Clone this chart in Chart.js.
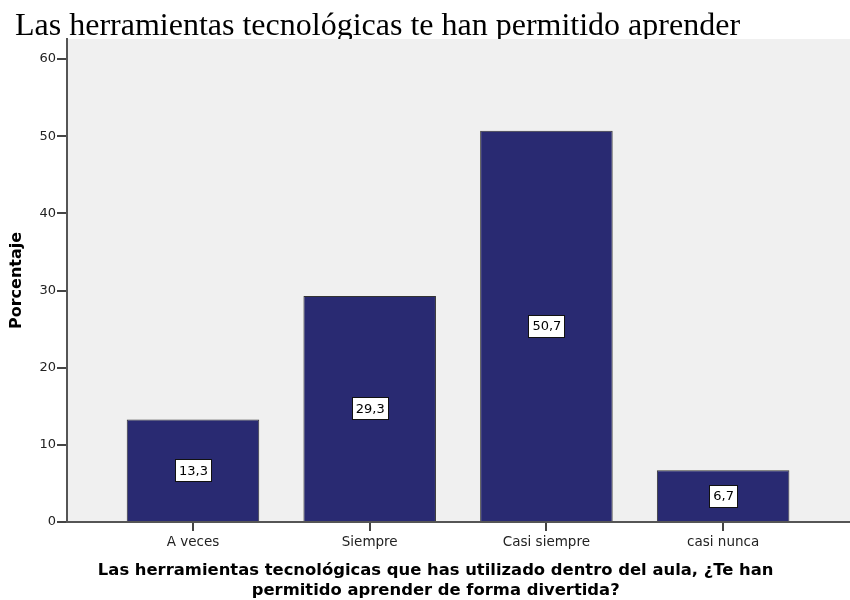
<!DOCTYPE html>
<html>
<head>
<meta charset="utf-8">
<script src="https://cdn.jsdelivr.net/npm/chart.js@4"></script>
<style>
  html, body { margin: 0; padding: 0; background: #ffffff; }
  #wrap { width: 850px; height: 600px; }
</style>
</head>
<body>
<div id="wrap"><canvas id="grafico" width="850" height="600"></canvas></div>
<script>
// datos del gráfico
const categorias = ['A veces', 'Siempre', 'Casi siempre', 'casi nunca'];
const porcentajes = [13.3, 29.3, 50.7, 6.7];
const ticksY = [0, 10, 20, 30, 40, 50, 60];

const tituloGrafico = 'Las herramientas tecnológicas te han permitido aprender';
const tituloX = ['Las herramientas tecnológicas que has utilizado dentro del aula, ¿Te han',
                 'permitido aprender de forma divertida?'];
const tituloY = 'Porcentaje';

const fuente = '"DejaVu Sans", Verdana, sans-serif';
const espacios = '\u00a0'.repeat(8); // desplaza el título del eje un poco a la izquierda

// fondo gris del área de trazado (tapa los descendentes del título, como en el original)
const fondoPlugin = {
    id: 'fondo',
    beforeDatasetsDraw(chart) {
        const { ctx, chartArea } = chart;
        ctx.save();
        ctx.fillStyle = '#f0f0f0';
        ctx.fillRect(chartArea.left + 1, chartArea.top, chartArea.right - chartArea.left - 1, chartArea.bottom - chartArea.top - 1);
        ctx.restore();
    }
};

// etiquetas con caja blanca en el centro de cada barra
const etiquetasPlugin = {
    id: 'etiquetas',
    afterDatasetsDraw(chart) {
        const { ctx } = chart;
        const meta = chart.getDatasetMeta(0);
        ctx.save();
        ctx.font = '13px ' + fuente;
        ctx.textAlign = 'center';
        ctx.textBaseline = 'middle';
        meta.data.forEach((bar, i) => {
            const texto = porcentajes[i].toFixed(1).replace('.', ',');
            const cx = bar.x;
            const cy = (bar.y + bar.base) / 2;
            const w = Math.round(ctx.measureText(texto).width + 7);
            const h = 22;
            const x0 = Math.round(cx - w / 2);
            const y0 = Math.round(cy - h / 2);
            ctx.fillStyle = '#ffffff';
            ctx.fillRect(x0, y0, w, h);
            ctx.strokeStyle = '#111111';
            ctx.lineWidth = 1;
            ctx.strokeRect(x0 + 0.5, y0 + 0.5, w, h);
            ctx.fillStyle = '#000000';
            ctx.fillText(texto, cx + 0.5, cy + 1);
        });
        ctx.restore();
    }
};

const ctx = document.getElementById('grafico').getContext('2d');
const chart = new Chart(ctx, {
    type: 'bar',
    data: {
        datasets: [{
            label: tituloY,
            data: porcentajes.map((v, i) => ({ x: i, y: v })),
            backgroundColor: '#292a72',
            borderColor: '#333333',
            borderWidth: 1,
            barPercentage: 1,
            categoryPercentage: 0.75
        }]
    },
    options: {
        responsive: false,
        animation: false,
        layout: { padding: { left: 15, right: 0, top: 0, bottom: 0 } },
        plugins: {
            legend: { display: false },
            tooltip: { enabled: false },
            title: {
                display: true,
                text: tituloGrafico,
                align: 'start',
                color: '#000000',
                font: { family: '"Liberation Serif", "Times New Roman", serif', size: 32, weight: 'normal', lineHeight: 1.1 },
                padding: { top: 9.4, bottom: -5.6 }
            }
        },
        scales: {
            x: {
                type: 'linear',
                offset: false,
                min: -0.713,
                max: 3.718,
                afterBuildTicks(scale) {
                    scale.ticks = categorias.map((c, i) => ({ value: i }));
                },
                afterFit(scale) {
                    scale.height = 78;
                },
                ticks: {
                    callback: (v) => categorias[v],
                    color: '#222222',
                    font: { family: fuente, size: 13.5 },
                    padding: 3,
                    maxRotation: 0,
                    autoSkip: false
                },
                grid: {
                    offset: false,
                    drawOnChartArea: false,
                    drawTicks: true,
                    tickLength: 9,
                    color: '#444444',
                    lineWidth: 2
                },
                border: { color: '#555555', width: 2 },
                title: {
                    display: true,
                    text: tituloX.map(t => t + espacios),
                    color: '#000000',
                    font: { family: fuente, size: 16.4, weight: 'bold', lineHeight: 20 / 16.4 },
                    padding: { top: 0, bottom: -1 }
                }
            },
            y: {
                min: 0,
                max: 62.6,
                afterBuildTicks(scale) {
                    scale.ticks = ticksY.map(v => ({ value: v }));
                },
                afterFit(scale) {
                    scale.width = 52;
                },
                ticks: {
                    color: '#222222',
                    font: { family: fuente, size: 13 },
                    padding: 1
                },
                grid: {
                    drawOnChartArea: false,
                    drawTicks: true,
                    tickLength: 10,
                    color: '#444444',
                    lineWidth: 2
                },
                border: { color: '#555555', width: 2 },
                title: {
                    display: true,
                    text: tituloY,
                    color: '#000000',
                    font: { family: fuente, size: 16, weight: 'bold', lineHeight: 1.2 },
                    padding: { top: -7.6, bottom: 0 }
                }
            }
        }
    },
    plugins: [fondoPlugin, etiquetasPlugin]
});
</script>
</body>
</html>
